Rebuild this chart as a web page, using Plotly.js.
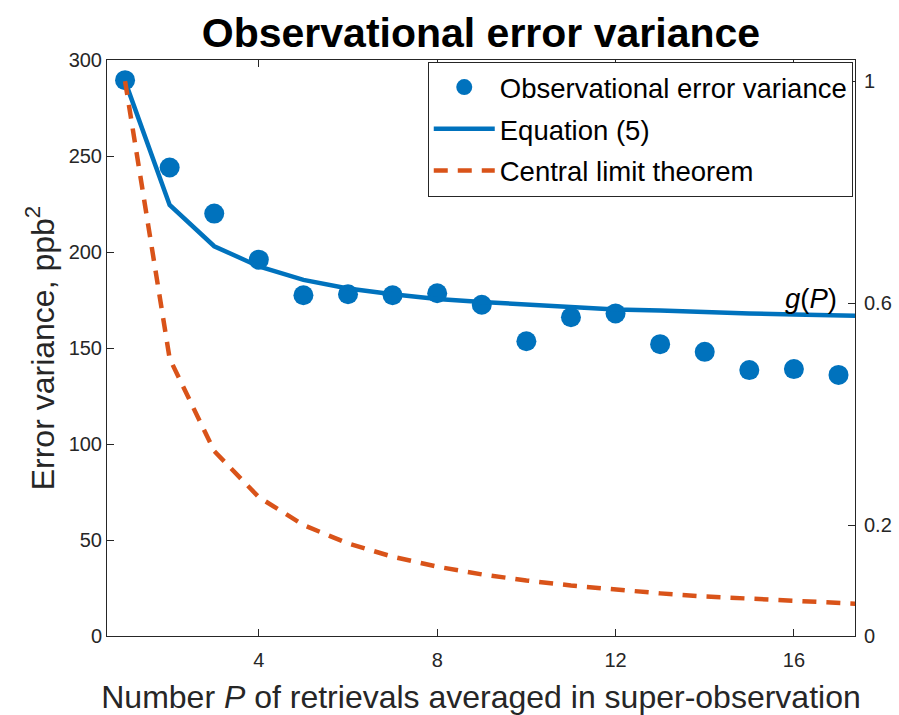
<!DOCTYPE html>
<html>
<head>
<meta charset="utf-8">
<script src="https://cdn.plot.ly/plotly-3.0.1.min.js"></script>
<style>html,body{margin:0;padding:0;background:#fff;}#chart{width:899px;height:715px;}</style>
</head>
<body>
<div id="chart"></div>
<script>
// Number of retrievals P
const P = [1,2,3,4,5,6,7,8,9,10,11,12,13,14,15,16,17];
// Observed error variance (ppb^2)
const observed = [289.5,244,220,196,177.5,178,177.5,178.5,172.5,153.5,166,168,152,148,138.5,139,136];
// Equation (5) curve (ppb^2), with an extra point beyond the axis end
const Pline = [1,2,3,4,5,6,7,8,9,10,11,12,13,14,15,16,17,18];
const equation5 = [289,224.5,203,192.5,185.5,181,178,175.5,174,172.5,171,170,169.5,168.5,168,167.5,167,166.5];
// Central limit theorem curve (ppb^2)
const clt = [289,144.5,96.3,72.3,57.8,48.2,41.3,36.1,32.1,28.9,26.3,24.1,22.2,20.6,19.3,18.1,17.0,16.1];
const xTicks = [4,8,12,16];
const yTicks = [0,50,100,150,200,250,300];
const y2Ticks = [0,0.2,0.6,1];
const y2Labels = ['0','0.2','0.6','1'];

const blue = '#0072BD', red = '#D95319', axc = '#262626';
const FONT = '"Liberation Sans", Arial, Helvetica, sans-serif';

const traces = [
  {x:P, y:observed, type:'scatter', mode:'markers', name:'Observational error variance',
   marker:{color:blue, size:20}, legendgroup:'a'},
  {x:Pline, y:equation5, type:'scatter', mode:'lines', name:'Equation (5)',
   line:{color:blue, width:4.5}, legendgroup:'b'},
  {x:Pline, y:clt, type:'scatter', mode:'lines', name:'Central limit theorem',
   line:{color:red, width:4.5, dash:'14px,10px'}, legendgroup:'c'},
  {x:[P[0]], y:[null], yaxis:'y2', type:'scatter', mode:'markers', showlegend:false, hoverinfo:'skip'}
];

const layout = {
  width:899, height:715,
  margin:{l:107, r:44, t:60, b:79},
  paper_bgcolor:'#fff', plot_bgcolor:'#fff',
  font:{family:FONT, color:axc},
  title:{text:'<b>Observational error variance</b>', font:{size:41, color:'#000', family:FONT},
         x:0.535, xanchor:'center', y:0.954, yanchor:'middle'},
  showlegend:true,
  legend:{x:0.997, xanchor:'right', y:0.997, yanchor:'top', bgcolor:'#fff', bordercolor:'#262626', borderwidth:1,
          font:{size:27.5, color:'#000', family:FONT}, traceorder:'grouped', tracegroupgap:3,
          itemwidth:61},
  xaxis:{range:[0.595,17.37], tickvals:xTicks, ticks:'inside', ticklen:7, tickcolor:axc,
         showline:true, linecolor:axc, linewidth:1, mirror:'ticks', showgrid:false, zeroline:false,
         tickfont:{size:20, color:axc}, ticklabelstandoff:6,
         title:{text:'Number <i>P</i> of retrievals averaged in super-observation', font:{size:32, color:axc}, standoff:17}},
  yaxis:{range:[0,300], tickvals:yTicks, ticks:'inside', ticklen:7, tickcolor:axc,
         showline:true, linecolor:axc, linewidth:1, showgrid:false, zeroline:false,
         tickfont:{size:20, color:axc},
         title:{text:'Error variance, ppb<sup>2</sup>', font:{size:32, color:axc}, standoff:4}},
  yaxis2:{overlaying:'y', side:'right', range:[0,300/289], tickvals:y2Ticks, ticktext:y2Labels,
          ticks:'inside', ticklen:7, tickcolor:axc, showline:true, linecolor:axc, linewidth:1,
          showgrid:false, zeroline:false, tickfont:{size:20, color:axc}, ticklabelstandoff:4},
  annotations:[
    {xref:'paper', yref:'y2', x:0.979, y:0.6, xanchor:'right', yanchor:'middle', showarrow:false,
     text:'<i>g</i>(<i>P</i>)', font:{size:27.5, color:'#000', family:FONT}, yshift:5, xshift:0}
  ]
};

Plotly.newPlot('chart', traces, layout, {displayModeBar:false, staticPlot:true});
</script>
</body>
</html>
